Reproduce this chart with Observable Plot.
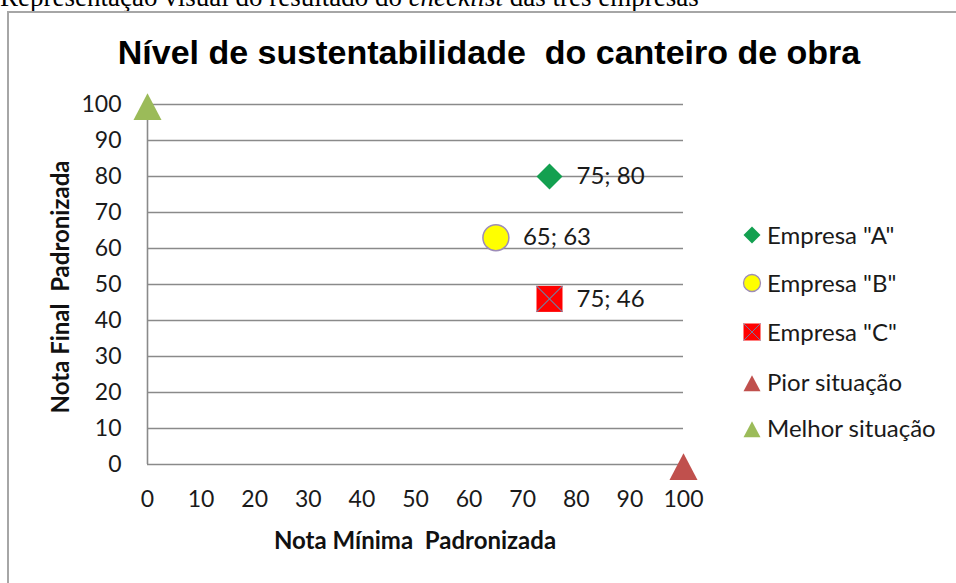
<!DOCTYPE html>
<html><head><meta charset="utf-8">
<script src="https://cdn.jsdelivr.net/npm/d3@7"></script>
<script src="https://cdn.jsdelivr.net/npm/@observablehq/plot@0.6"></script>
<style>
body{margin:0;width:956px;height:583px;overflow:hidden;position:relative;background:#fff;}
#caption{position:absolute;left:0;top:-17px;font:27px "Liberation Serif";line-height:28px;white-space:nowrap;color:#000;}
#frame{position:absolute;left:7px;top:11px;width:1000px;height:700px;border:2px solid #a6a6a6;box-sizing:border-box;}
#title{position:absolute;left:0;width:978px;top:30px;text-align:center;font:bold 34px "Liberation Sans";line-height:44px;color:#000;white-space:pre;}
#chart{position:absolute;left:0;top:0;}
.axt{position:absolute;font:bold 24px Lato;color:#111;white-space:pre;text-align:center;line-height:28px;}
#legend{position:absolute;left:0;top:0;}
.leg{position:absolute;font:24px Lato;color:#1a1a1a;white-space:nowrap;line-height:28px;}
</style></head>
<body>
<div id="caption">Representação visual do resultado do <i>checklist</i> das três empresas</div>
<div id="frame"></div>
<div id="title">Nível de sustentabilidade  do canteiro de obra</div>
<div id="chart"></div>
<div class="axt" id="xt" style="left:215px;width:400px;top:526px;">Nota Mínima  Padronizada</div>
<div class="axt" id="yt" style="left:-140px;width:400px;top:273px;transform:rotate(-90deg);">Nota Final  Padronizada</div>
<div id="legend"></div>
<script>
// ---- data ----
const series = ['Empresa "A"', 'Empresa "B"', 'Empresa "C"', 'Pior situação', 'Melhor situação'];
const notaMinima = [75, 65, 75, 100, 0];
const notaFinal = [80, 63, 46, 0, 100];
const labelled = [true, true, true, false, false];
const xTicks = [0, 10, 20, 30, 40, 50, 60, 70, 80, 90, 100];
const yTicks = [0, 10, 20, 30, 40, 50, 60, 70, 80, 90, 100];

// ---- styles ----
const fills = ["#13a050", "#ffff00", "#ff0000", "#c0504d", "#9bbb59"];
const strokes = ["none", "#9d8cb8", "none", "none", "none"];
const shapes = ["diamond", "circle", "square", "triangle", "triangle"];

const rows = series.map((s, i) => ({s, x: notaMinima[i], y: notaFinal[i], lab: labelled[i], fill: fills[i], stroke: strokes[i], shape: shapes[i]}));

function R(size){ return Math.sqrt(size / Math.PI); }
const symDiamond = {draw(c, size){ const r = R(size); c.moveTo(0,-r); c.lineTo(r,0); c.lineTo(0,r); c.lineTo(-r,0); c.closePath(); }};
const symSquare = {draw(c, size){ const r = R(size); c.rect(-r,-r,2*r,2*r); }};
const symX = {draw(c, size){ const r = R(size); c.moveTo(-r,-r); c.lineTo(r,r); c.moveTo(r,-r); c.lineTo(-r,r); }};
const symTri = {draw(c, size){ const r = R(size); c.moveTo(0,-0.8*r); c.lineTo(r,1.1*r); c.lineTo(-r,1.1*r); c.closePath(); }};
const symCircle = {draw(c, size){ const r = R(size); c.moveTo(r,0); c.arc(0,0,r,0,2*Math.PI); }};
const symbolFor = {diamond: symDiamond, circle: symCircle, square: symSquare, triangle: symTri};

const byShape = sh => rows.filter(d => d.shape === sh);

const plot = Plot.plot({
  width: 956, height: 583,
  marginLeft: 147, marginRight: 273, marginTop: 104, marginBottom: 119,
  style: {fontFamily: "Lato", fontSize: "23px", color: "#1a1a1a", background: "transparent"},
  x: {domain: [0, 100], ticks: xTicks, tickSize: 0, tickPadding: 26, label: null},
  y: {domain: [0, 100], ticks: yTicks, tickSize: 0, tickPadding: 26, label: null},
  marks: [
    Plot.ruleY(yTicks, {y: d => d, x1: 0, x2: 100, stroke: "#8a8a8a", strokeWidth: 1.6, strokeOpacity: 1}),
    Plot.ruleX([0], {x: d => d, y1: 0, y2: 100, stroke: "#8a8a8a", strokeWidth: 1.6, strokeOpacity: 1}),
    Plot.dot(byShape("diamond"), {x: "x", y: "y", r: 13, symbol: symDiamond, fill: d => d.fill, stroke: "none"}),
    Plot.dot(byShape("circle"), {x: "x", y: "y", r: 13, symbol: symCircle, fill: d => d.fill, stroke: d => d.stroke, strokeWidth: 1.5}),
    Plot.dot(byShape("square"), {x: "x", y: "y", r: 13, symbol: symSquare, fill: d => d.fill, stroke: "none"}),
    Plot.dot(byShape("square"), {x: "x", y: "y", r: 13, symbol: symX, fill: "none", stroke: "#7a7a9a", strokeWidth: 1.2}),
    Plot.dot(byShape("triangle"), {x: "x", y: "y", r: 14, symbol: symTri, fill: d => d.fill, stroke: "none"}),
    Plot.text(rows.filter(d => d.lab), {x: "x", y: "y", text: d => `${d.x}; ${d.y}`, textAnchor: "start", dx: 27, fill: "#1a1a1a", fontSize: 24})
  ]
});
document.getElementById("chart").append(plot);

// ---- legend ----
const legY = [235, 283, 332, 382, 428];
const legend = d3.select("#legend");
rows.forEach((d, i) => {
  const svg = legend.append("svg").attr("width", 24).attr("height", 24)
    .style("position", "absolute").style("left", "740px").style("top", (legY[i] - 12) + "px");
  const sz = Math.PI * 8.5 * 8.5;
  const p = d3.path(); symbolFor[d.shape].draw(p, sz);
  svg.append("path").attr("transform", "translate(12,12)").attr("d", p.toString())
    .attr("fill", d.fill).attr("stroke", d.stroke === "none" ? null : d.stroke).attr("stroke-width", 1.3);
  if (d.shape === "square") {
    const q = d3.path(); symX.draw(q, sz);
    svg.append("path").attr("transform", "translate(12,12)").attr("d", q.toString()).attr("fill", "none").attr("stroke", "#7a7a9a").attr("stroke-width", 1);
  }
  legend.append("div").attr("class", "leg").style("left", "767px").style("top", (legY[i] - 14) + "px").text(d.s);
});
</script>
</body></html>
